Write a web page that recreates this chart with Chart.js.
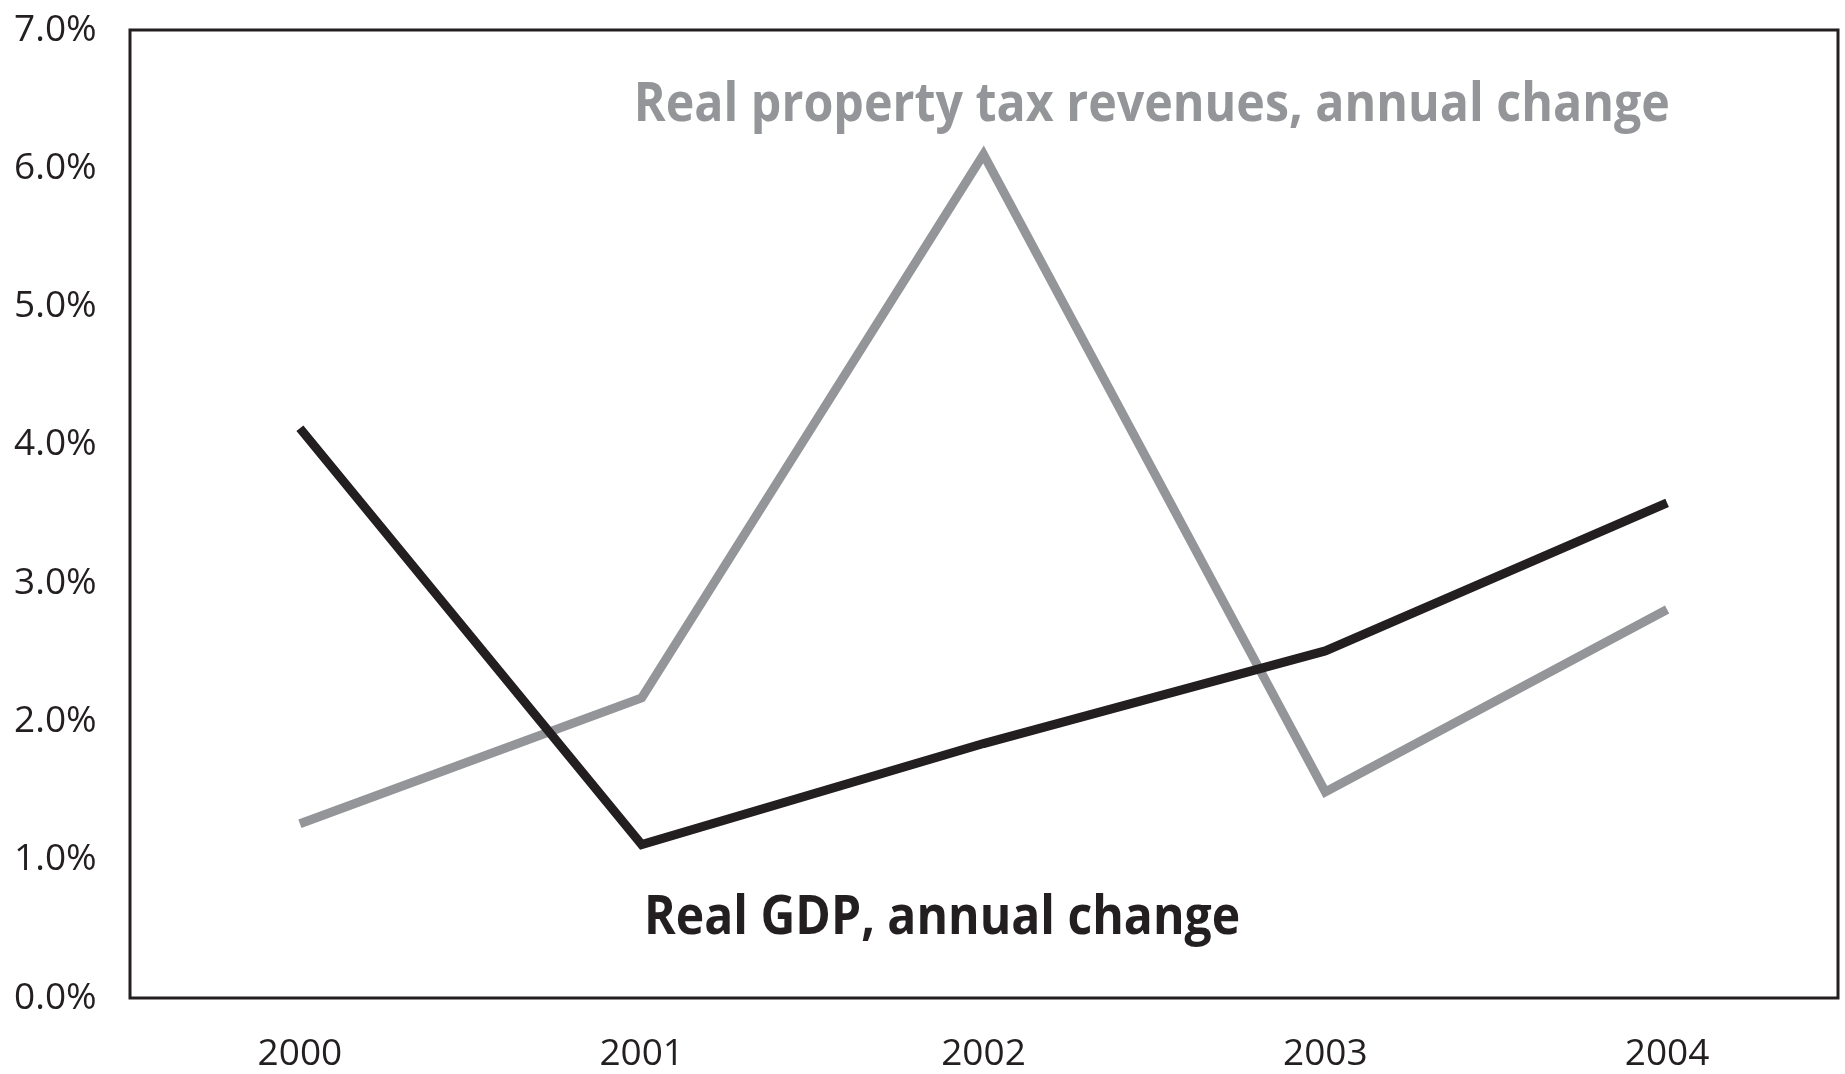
<!DOCTYPE html>
<html>
<head>
<meta charset="utf-8">
<script src="https://cdn.jsdelivr.net/npm/chart.js@4/dist/chart.umd.min.js"></script>
<style>
    html, body { margin: 0; padding: 0; background: #ffffff; }
    #wrap { width: 1845px; height: 1074px; }
</style>
</head>
<body>
<div id="wrap"><canvas id="chart"></canvas></div>
<script>
const years = ["2000", "2001", "2002", "2003", "2004"];
const gdpChange = [4.12, 1.11, 1.84, 2.51, 3.58];
const taxChange = [1.26, 2.17, 6.10, 1.49, 2.81];
const yTicks = [0, 1, 2, 3, 4, 5, 6, 7];

const gdpLabel = "Real GDP, annual change";
const taxLabel = "Real property tax revenues, annual change";

const black = "#231f20";
const grey = "#939598";


// frame round the plot and the two line labels
const framePlugin = {
    id: "frame",
    afterDatasetsDraw(chart) {
        const ctx = chart.ctx;
        const area = chart.chartArea;
        const x = chart.scales.x;
        const y = chart.scales.y;

        ctx.save();
        ctx.strokeStyle = black;
        ctx.lineWidth = 3;
        ctx.strokeRect(area.left + 1, area.top, area.right - area.left - 1, area.bottom - area.top);

        ctx.font = "bold 54px 'Open Sans'";
        ctx.textBaseline = "alphabetic";
        ctx.textAlign = "left";

        ctx.fillStyle = grey;
        ctx.fillText(taxLabel, x.getPixelForValue(0.977), y.getPixelForValue(6.34), 1036);

        ctx.fillStyle = black;
        ctx.fillText(gdpLabel, x.getPixelForValue(1.007), y.getPixelForValue(0.46), 596);
        ctx.restore();
    }
};


function drawChart() {
    const context = document.getElementById("chart");

    new Chart(context, {
        type: "line",
        data: {
            labels: years,
            datasets: [{
                label: gdpLabel,
                data: gdpChange,
                borderColor: black,
                borderWidth: 9,
                borderJoinStyle: "miter",
                pointRadius: 0,
                tension: 0
            }, {
                label: taxLabel,
                data: taxChange,
                borderColor: grey,
                borderWidth: 9,
                borderJoinStyle: "miter",
                pointRadius: 0,
                tension: 0
            }]
        },
        options: {
            responsive: true,
            maintainAspectRatio: false,
            animation: false,
            layout: {
                padding: { left: 14, top: 30, right: 7, bottom: 0 }
            },
            plugins: {
                legend: { display: false },
                tooltip: { enabled: false }
            },
            scales: {
                x: {
                    offset: true,
                    grid: { display: false },
                    border: { display: false },
                    ticks: {
                        color: black,
                        padding: 26,
                        font: { family: "'Open Sans'", size: 37 }
                    },
                    afterFit(axis) {
                        axis.height = 76;
                    }
                },
                y: {
                    min: yTicks[0],
                    max: yTicks[yTicks.length - 1],
                    grid: { display: false },
                    border: { display: false },
                    afterBuildTicks(axis) {
                        axis.ticks = yTicks.map(v => ({ value: v }));
                    },
                    ticks: {
                        color: black,
                        crossAlign: "far",
                        font: { family: "'Open Sans'", size: 37 },
                        callback: value => value.toFixed(1) + "%"
                    },
                    afterFit(axis) {
                        axis.width = 115;
                    }
                }
            }
        },
        plugins: [framePlugin]
    });
}


drawChart();
</script>
</body>
</html>
